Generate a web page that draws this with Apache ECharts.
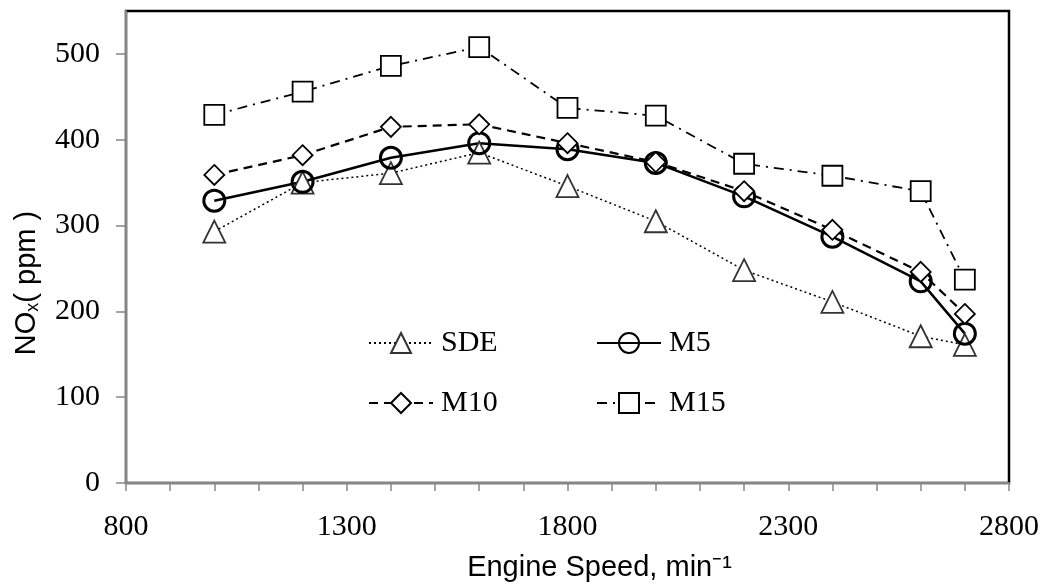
<!DOCTYPE html>
<html>
<head>
<meta charset="utf-8">
<script src="https://cdn.jsdelivr.net/npm/echarts@6/dist/echarts.min.js"></script>
<style>
  html, body { margin: 0; padding: 0; background: #fff; }
  #main { width: 1044px; height: 584px; }
</style>
</head>
<body>
<div id="main"></div>
<script>
var speeds = [1000, 1200, 1400, 1600, 1800, 2000, 2200, 2400, 2600, 2700];
var sde = [293, 350, 361, 385, 346, 305, 248, 211, 171, 161];
var m5 = [329, 351, 379, 396, 389, 373, 334, 287, 235, 174];
var m10 = [359, 382, 415, 418, 396, 374, 340, 295, 246, 197];
var m15 = [429, 456, 486, 508, 437, 428, 372, 358, 340, 237];
var yTicks = [0, 100, 200, 300, 400, 500];

function pairs(vals) {
  return speeds.map(function (s, i) { return [s, vals[i]]; });
}

var serif = 'Liberation Serif';
var sans = 'Liberation Sans';

var chart = echarts.init(document.getElementById('main'));

function legendAt(name, left, top) {
  return {
    data: [name],
    left: left,
    top: top,
    padding: 0,
    itemWidth: 64,
    itemHeight: 25,
    itemGap: 0,
    selectedMode: false,
    textStyle: { fontFamily: serif, fontSize: 30, color: '#000', padding: [0, 0, 0, 3] }
  };
}

chart.setOption({
  animation: false,
  grid: {
    left: 126, right: 35, top: 11, bottom: 101,
    outerBoundsMode: 'none',
    show: true, borderColor: '#000', borderWidth: 2.5, backgroundColor: 'transparent'
  },
  legend: [
    legendAt('SDE', 368, 328),
    legendAt('M5', 596, 328),
    legendAt('M10', 368, 388),
    legendAt('M15', 596, 388)
  ],
  xAxis: {
    type: 'value',
    min: 800, max: 2800, interval: 500,
    name: 'Engine Speed, min⁻¹',
    nameLocation: 'middle',
    nameGap: 70,
    nameTextStyle: { fontFamily: sans, fontSize: 29, color: '#000', padding: [0, 0, 0, 64] },
    axisLine: { lineStyle: { color: '#868686', width: 2 } },
    axisTick: { show: true, inside: false, length: 8, lineStyle: { color: '#868686', width: 1.5 } },
    minorTick: { show: true, splitNumber: 5, length: 8, lineStyle: { color: '#868686', width: 1.5 } },
    axisLabel: {
      fontFamily: serif, fontSize: 30, color: '#000', margin: 29,
      formatter: function (v) { return String(v); }
    },
    splitLine: { show: false }
  },
  yAxis: {
    type: 'value',
    min: 0, max: 550,
    name: '{a|NO}{b|x}{a|( ppm )}',
    nameLocation: 'middle',
    nameGap: 82,
    nameRotate: 90,
    nameTextStyle: {
      padding: [0, 72, 0, 0],
      rich: {
        a: { fontFamily: sans, fontSize: 29, color: '#000', lineHeight: 34 },
        b: { fontFamily: sans, fontSize: 18, color: '#000', lineHeight: 22, padding: [12, 0, 0, 0] }
      }
    },
    axisLine: { show: true, lineStyle: { color: '#868686', width: 2 } },
    axisTick: { show: true, inside: false, length: 10, customValues: yTicks, lineStyle: { color: '#868686', width: 1.5 } },
    axisLabel: { fontFamily: serif, fontSize: 30, color: '#000', margin: 26, customValues: yTicks },
    splitLine: { show: false }
  },
  series: [
    {
      name: 'SDE', type: 'line', data: pairs(sde),
      symbol: 'triangle', symbolSize: 22,
      lineStyle: { color: '#000', width: 1.5, type: [2, 3] },
      itemStyle: { color: '#fff', borderColor: '#333', borderWidth: 1.8 }
    },
    {
      name: 'M5', type: 'line', data: pairs(m5),
      symbol: 'circle', symbolSize: 21,
      lineStyle: { color: '#000', width: 2.5, type: 'solid' },
      itemStyle: { color: 'rgba(255,255,255,0)', borderColor: '#000', borderWidth: 3 }
    },
    {
      name: 'M10', type: 'line', data: pairs(m10),
      symbol: 'diamond', symbolSize: 20,
      lineStyle: { color: '#000', width: 2.2, type: [9, 6] },
      itemStyle: { color: '#fff', borderColor: '#000', borderWidth: 1.8 }
    },
    {
      name: 'M15', type: 'line', data: pairs(m15),
      symbol: 'rect', symbolSize: 20,
      lineStyle: { color: '#000', width: 1.8, type: [10, 6, 2, 6] },
      itemStyle: { color: '#fff', borderColor: '#000', borderWidth: 1.8 }
    }
  ]
});
</script>
</body>
</html>
